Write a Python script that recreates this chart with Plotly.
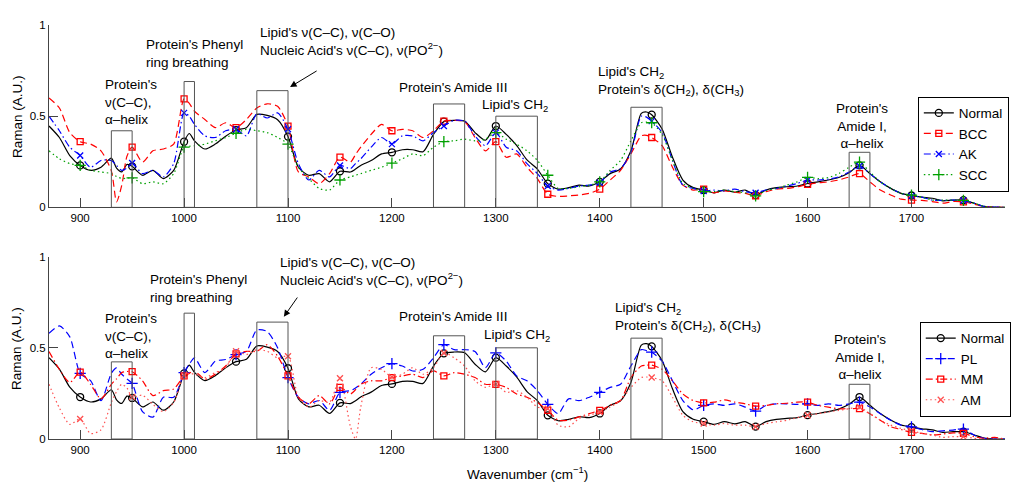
import plotly.graph_objects as go

# wavenumber grid (cm^-1), a few extra points where peaks are narrow
wn = ([870, 880, 890, 900, 910, 920, 930, 935, 940, 945, 950, 960, 970, 980, 990, 1000, 1005]
      + list(range(1010, 1170, 10)) + [1165] + list(range(1170, 1450, 10)) + [1445]
      + list(range(1450, 1800, 10)))
wn = sorted(wn)

# top panel
normal = ([0.446, 0.383, 0.284, 0.23, 0.203, 0.22, 0.27]
          + [0.215, 0.195, 0.235, 0.225]
          + [0.176, 0.203, 0.158, 0.203, 0.36]
          + [0.405]
          + [0.365, 0.32, 0.347, 0.39, 0.424, 0.437, 0.51, 0.504, 0.48, 0.388, 0.22, 0.176, 0.185, 0.14, 0.198, 0.194]
          + [0.21]
          + [0.23, 0.257, 0.293, 0.302, 0.316, 0.316, 0.305, 0.40, 0.47, 0.477, 0.473, 0.41, 0.368, 0.446,
             0.40, 0.34, 0.26, 0.21, 0.13, 0.10, 0.108, 0.122, 0.117, 0.14, 0.185, 0.21, 0.31, 0.515]
          + [0.523]
          + [0.508, 0.43, 0.275, 0.15, 0.108, 0.095, 0.08, 0.095, 0.083, 0.095, 0.068, 0.095, 0.108, 0.113,
             0.117, 0.131, 0.14, 0.15, 0.164, 0.19, 0.23, 0.185, 0.14, 0.104, 0.077, 0.065, 0.056, 0.05,
             0.036, 0.04, 0.04, 0.023, 0.005, 0.0, 0.0])

bcc = ([0.60, 0.545, 0.41, 0.36, 0.347, 0.31, 0.20]
       + [0.03, 0.12, 0.28, 0.33]
       + [0.248, 0.31, 0.32, 0.347, 0.595]
       + [0.57]
       + [0.527, 0.482, 0.437, 0.464, 0.437, 0.482, 0.545, 0.568, 0.554, 0.446, 0.194, 0.167, 0.13, 0.185, 0.275, 0.248]
       + [0.29]
       + [0.33, 0.40, 0.455, 0.42, 0.428, 0.42, 0.383, 0.42, 0.473, 0.477, 0.47, 0.383, 0.31, 0.36,
          0.275, 0.293, 0.22, 0.158, 0.072, 0.06, 0.063, 0.068, 0.077, 0.10, 0.15, 0.203, 0.293, 0.392]
       + [0.395]
       + [0.383, 0.338, 0.22, 0.122, 0.095, 0.10, 0.08, 0.09, 0.083, 0.077, 0.063, 0.086, 0.10, 0.104,
          0.113, 0.126, 0.135, 0.14, 0.15, 0.167, 0.185, 0.14, 0.095, 0.068, 0.045, 0.04, 0.038, 0.032,
          0.023, 0.032, 0.03, 0.018, 0.005, 0.002, 0.0])

ak = ([0.50, 0.42, 0.33, 0.284, 0.22, 0.257, 0.257]
      + [0.23, 0.203, 0.215, 0.243]
      + [0.185, 0.203, 0.167, 0.24, 0.518]
      + [0.50]
      + [0.455, 0.392, 0.383, 0.42, 0.428, 0.392, 0.513, 0.49, 0.518, 0.428, 0.24, 0.15, 0.203, 0.167, 0.23, 0.212]
      + [0.24]
      + [0.266, 0.33, 0.383, 0.347, 0.392, 0.392, 0.365, 0.41, 0.446, 0.477, 0.473, 0.392, 0.338, 0.41,
         0.33, 0.31, 0.24, 0.185, 0.117, 0.095, 0.104, 0.117, 0.122, 0.135, 0.194, 0.212, 0.302, 0.50]
      + [0.495]
      + [0.473, 0.41, 0.257, 0.122, 0.104, 0.09, 0.095, 0.09, 0.10, 0.086, 0.08, 0.095, 0.104, 0.117,
         0.131, 0.15, 0.15, 0.155, 0.167, 0.194, 0.227, 0.185, 0.14, 0.104, 0.077, 0.063, 0.056, 0.04,
         0.038, 0.04, 0.038, 0.023, 0.005, 0.002, 0.0])

scc = ([0.31, 0.266, 0.24, 0.23, 0.203, 0.194, 0.185]
       + [0.17, 0.158, 0.16, 0.162]
       + [0.13, 0.14, 0.13, 0.185, 0.33]
       + [0.335]
       + [0.338, 0.347, 0.365, 0.383, 0.406, 0.428, 0.42, 0.41, 0.383, 0.347, 0.22, 0.158, 0.104, 0.095, 0.15, 0.167]
       + [0.176]
       + [0.185, 0.203, 0.22, 0.243, 0.266, 0.293, 0.284, 0.33, 0.36, 0.365, 0.374, 0.365, 0.374, 0.41,
          0.374, 0.347, 0.31, 0.257, 0.176, 0.104, 0.104, 0.113, 0.122, 0.14, 0.203, 0.257, 0.365, 0.464]
       + [0.468]
       + [0.464, 0.40, 0.257, 0.131, 0.104, 0.086, 0.086, 0.095, 0.086, 0.08, 0.063, 0.092, 0.104, 0.122,
          0.14, 0.164, 0.158, 0.164, 0.185, 0.22, 0.248, 0.194, 0.14, 0.104, 0.077, 0.067, 0.056, 0.04,
          0.04, 0.04, 0.038, 0.023, 0.005, 0.002, 0.0])

# bottom panel
pl = ([0.58, 0.62, 0.56, 0.36, 0.32, 0.21, 0.36]
      + [0.39, 0.355, 0.33, 0.305]
      + [0.15, 0.12, 0.229, 0.229, 0.364]
      + [0.41]
      + [0.445, 0.364, 0.427, 0.436, 0.463, 0.481, 0.598, 0.589, 0.50, 0.337, 0.229, 0.193, 0.211, 0.157, 0.256, 0.265]
      + [0.28]
      + [0.30, 0.355, 0.391, 0.413, 0.40, 0.373, 0.382, 0.445, 0.517, 0.49, 0.49, 0.48, 0.391, 0.472,
         0.427, 0.346, 0.319, 0.265, 0.19, 0.139, 0.22, 0.21, 0.229, 0.256, 0.283, 0.30, 0.40, 0.49]
      + [0.485]
      + [0.476, 0.427, 0.319, 0.211, 0.16, 0.184, 0.193, 0.184, 0.193, 0.175, 0.153, 0.184, 0.193, 0.193,
         0.19, 0.193, 0.184, 0.193, 0.184, 0.193, 0.202, 0.175, 0.139, 0.103, 0.076, 0.067, 0.052, 0.04,
         0.045, 0.049, 0.054, 0.022, 0.004, 0.0, 0.0])

mm = ([0.48, 0.382, 0.31, 0.367, 0.30, 0.22, 0.30]
      + [0.33, 0.364, 0.37, 0.369]
      + [0.319, 0.238, 0.265, 0.274, 0.346]
      + [0.36]
      + [0.373, 0.328, 0.355, 0.40, 0.467, 0.481, 0.481, 0.517, 0.454, 0.346, 0.229, 0.193, 0.238, 0.193, 0.283, 0.247]
      + [0.27]
      + [0.30, 0.319, 0.319, 0.337, 0.346, 0.355, 0.337, 0.373, 0.346, 0.364, 0.355, 0.337, 0.30, 0.30,
         0.283, 0.247, 0.229, 0.20, 0.157, 0.103, 0.103, 0.121, 0.139, 0.157, 0.184, 0.211, 0.337, 0.40]
      + [0.405]
      + [0.405, 0.382, 0.319, 0.247, 0.211, 0.198, 0.202, 0.214, 0.202, 0.193, 0.18, 0.184, 0.193, 0.196,
         0.202, 0.202, 0.184, 0.175, 0.166, 0.166, 0.166, 0.139, 0.103, 0.067, 0.052, 0.036, 0.031, 0.022,
         0.027, 0.034, 0.031, 0.013, 0.004, 0.009, 0.0])

am = ([0.30, 0.17, 0.08, 0.11, 0.03, 0.05, 0.2]
      + [0.26, 0.3, 0.28, 0.23]
      + [0.24, 0.19, 0.15, 0.2, 0.35]
      + [0.36]
      + [0.355, 0.337, 0.364, 0.391, 0.481, 0.463, 0.49, 0.481, 0.445, 0.454, 0.229, 0.175, 0.211, 0.202, 0.333, 0.07]
      + [0.0]
      + [0.175, 0.391, 0.382, 0.34, 0.355, 0.391, 0.355, 0.391, 0.472, 0.445, 0.40, 0.319, 0.283, 0.30,
         0.256, 0.265, 0.229, 0.175, 0.166, 0.076, 0.067, 0.112, 0.13, 0.148, 0.175, 0.211, 0.283, 0.337]
      + [0.34]
      + [0.337, 0.319, 0.229, 0.13, 0.094, 0.085, 0.076, 0.085, 0.076, 0.076, 0.067, 0.085, 0.094, 0.103,
         0.117, 0.13, 0.139, 0.148, 0.157, 0.166, 0.175, 0.139, 0.103, 0.076, 0.058, 0.045, 0.031, 0.022,
         0.009, 0.013, 0.013, 0.004, 0.0, 0.0, 0.0])

x_ticks = [900, 1000, 1100, 1200, 1300, 1400, 1500, 1600, 1700]
y_ticks = [0, 0.5, 1]
y_ticktext = ["0", "0.5", "1"]

# assignment bands (lo, hi, box height in each panel)
band_lo = [930, 1000, 1070, 1240, 1300, 1430, 1640]
band_hi = [950, 1010, 1100, 1270, 1340, 1460, 1660]
band_top_upper = [0.42, 0.69, 0.64, 0.567, 0.50, 0.549, 0.302]
band_top_lower = [0.423, 0.69, 0.641, 0.566, 0.50, 0.553, 0.30]

FONT = "Liberation Sans, Arial, Helvetica, sans-serif"

# (name, values, color, dash, marker symbol, marker size)
upper = [
    ("Normal", normal, "black", "solid", "circle-open", 7),
    ("BCC", bcc, "#ff0000", "7px,4px", "square-open", 6),
    ("AK", ak, "#0000ff", "7px,3px,1.5px,3px", "x-thin-open", 6),
    ("SCC", scc, "#00a000", "1.5px,3px", "cross-thin-open", 8),
]
lower = [
    ("Normal", normal, "black", "solid", "circle-open", 7),
    ("PL", pl, "#0000ff", "7px,4px", "cross-thin-open", 8),
    ("MM", mm, "#ff0000", "7px,3px,1.5px,3px", "square-open", 6),
    ("AM", am, "#ff5050", "1.5px,3px", "x-thin-open", 6),
]

fig = go.Figure()


def add_series(series, xa, ya, leg):
    for name, vals, color, dash, sym, ms in series:
        assert len(vals) == len(wn), name
        fig.add_trace(go.Scatter(
            x=wn, y=vals, mode="lines", xaxis=xa, yaxis=ya, showlegend=False,
            line=dict(color=color, width=1.2, dash=dash, shape="spline", smoothing=0.7),
            hoverinfo="skip"))
        mx = [w for w in wn if w % 50 == 0 and 900 <= w <= 1750]
        my = [v for w, v in zip(wn, vals) if w % 50 == 0 and 900 <= w <= 1750]
        mk = dict(symbol=sym, size=ms, color=color, line=dict(color=color, width=1.3))
        fig.add_trace(go.Scatter(x=mx, y=my, mode="markers", xaxis=xa, yaxis=ya,
                                 marker=mk, showlegend=False, hoverinfo="skip"))
        # legend entry only
        fig.add_trace(go.Scatter(x=[None], y=[None], mode="lines+markers", name=name,
                                 xaxis=xa, yaxis=ya, legend=leg,
                                 line=dict(color=color, width=1.2, dash=dash), marker=mk))


add_series(upper, "x", "y", "legend")
add_series(lower, "x2", "y2", "legend2")

shapes = []
for lo, hi, t1, t2 in zip(band_lo, band_hi, band_top_upper, band_top_lower):
    shapes.append(dict(type="rect", xref="x", yref="y", x0=lo, x1=hi, y0=0, y1=t1,
                       line=dict(color="#555555", width=1)))
    shapes.append(dict(type="rect", xref="x2", yref="y2", x0=lo, x1=hi, y0=0, y1=t2,
                       line=dict(color="#555555", width=1)))

annotations = []


def note(text, x, y, xr, yr, xanchor="left", yanchor="top", align="left", yshift=0):
    annotations.append(dict(text=text, x=x, y=y, xref=xr, yref=yr, xanchor=xanchor,
                            yanchor=yanchor, align=align, showarrow=False, yshift=yshift,
                            font=dict(size=13.5, color="black")))


lipid_nuc = "Lipid's ν(C–C), ν(C–O)<br>Nucleic Acid's ν(C–C), ν(PO<sup>2−</sup>)"
lipid_ch = "Lipid's CH<sub>2</sub><br>Protein's δ(CH<sub>2</sub>), δ(CH<sub>3</sub>)"

# upper panel labels
note("Protein's<br>ν(C–C),<br>α–helix", 922, 0.725, "x", "y")
note("Protein's Phenyl<br>ring breathing", 961, 0.945, "x", "y")
note(lipid_nuc, 1071, 1.0, "x", "y", yshift=2)
note("Protein's Amide III", 1259, 0.66, "x", "y", "center", "middle")
note("Lipid's CH<sub>2</sub>", 1285, 0.56, "x", "y", "left", "middle")
note(lipid_ch, 1396, 0.795, "x", "y")
note("Protein's<br>Amide I,<br>α–helix", 1652, 0.595, "x", "y", "center", "top", "center")

# lower panel labels
note("Protein's<br>ν(C–C),<br>α–helix", 922, 0.715, "x2", "y2")
note("Protein's Phenyl<br>ring breathing", 965, 0.925, "x2", "y2")
note(lipid_nuc, 1090, 1.0, "x2", "y2", yshift=4)
note("Protein's Amide III", 1259, 0.67, "x2", "y2", "center", "middle")
note("Lipid's CH<sub>2</sub>", 1287, 0.57, "x2", "y2", "left", "middle")
note(lipid_ch, 1413, 0.775, "x2", "y2")
note("Protein's<br>Amide I,<br>α–helix", 1650, 0.597, "x2", "y2", "center", "top", "center")

# arrows to the 1070-1100 box
annotations.append(dict(x=1102, y=0.66, ax=1129, ay=0.753, xref="x", yref="y", axref="x", ayref="y",
                        text="", showarrow=True, arrowhead=2, arrowsize=1.3, arrowwidth=1,
                        arrowcolor="black"))
annotations.append(dict(x=1096, y=0.67, ax=1110, ay=0.784, xref="x2", yref="y2", axref="x2",
                        ayref="y2", text="", showarrow=True, arrowhead=2, arrowsize=1.3,
                        arrowwidth=1, arrowcolor="black"))

# axis titles
for yc in [0.78, 0.22]:
    annotations.append(dict(text="Raman (A.U.)", x=-0.0335, y=yc, xref="paper", yref="paper",
                            textangle=-90, showarrow=False, xanchor="center", yanchor="middle",
                            font=dict(size=13.5, color="black")))
annotations.append(dict(text="Wavenumber (cm<sup>−1</sup>)", x=0.5, y=-0.081, xref="paper",
                        yref="paper", showarrow=False, xanchor="center", yanchor="middle",
                        font=dict(size=13.5, color="black")))

xax = dict(range=[870, 1790], tickvals=x_ticks, ticks="inside", ticklen=9, tickcolor="#444",
           showline=True, linecolor="#444", linewidth=1, showgrid=False, zeroline=False,
           tickfont=dict(size=11.5, color="black"))
yax = dict(range=[0, 1], tickvals=y_ticks, ticktext=y_ticktext, ticks="inside", ticklen=9,
           tickcolor="#444", showline=True, linecolor="#444", linewidth=1, showgrid=False,
           zeroline=False, tickfont=dict(size=11.5, color="black"))

legend_style = dict(bgcolor="white", bordercolor="black", borderwidth=1,
                    font=dict(size=13.5, color="black"), xanchor="right", yanchor="top",
                    tracegroupgap=0, itemwidth=30)

# the page body adds an 8px offset, so the figure is drawn 8px smaller
fig.update_layout(
    width=1016, height=486,
    margin=dict(l=41, r=19, t=11, b=55),
    paper_bgcolor="white", plot_bgcolor="white",
    font=dict(family=FONT, color="black"),
    xaxis=dict(xax, domain=[0, 1], anchor="y"),
    yaxis=dict(yax, domain=[0.5595, 1], anchor="x"),
    xaxis2=dict(xax, domain=[0, 1], anchor="y2"),
    yaxis2=dict(yax, domain=[0, 0.4405], anchor="x2"),
    legend=dict(legend_style, x=1.004, y=0.827),
    legend2=dict(legend_style, x=1.006, y=0.283),
    shapes=shapes,
    annotations=annotations,
)

fig.write_html("out.html")
